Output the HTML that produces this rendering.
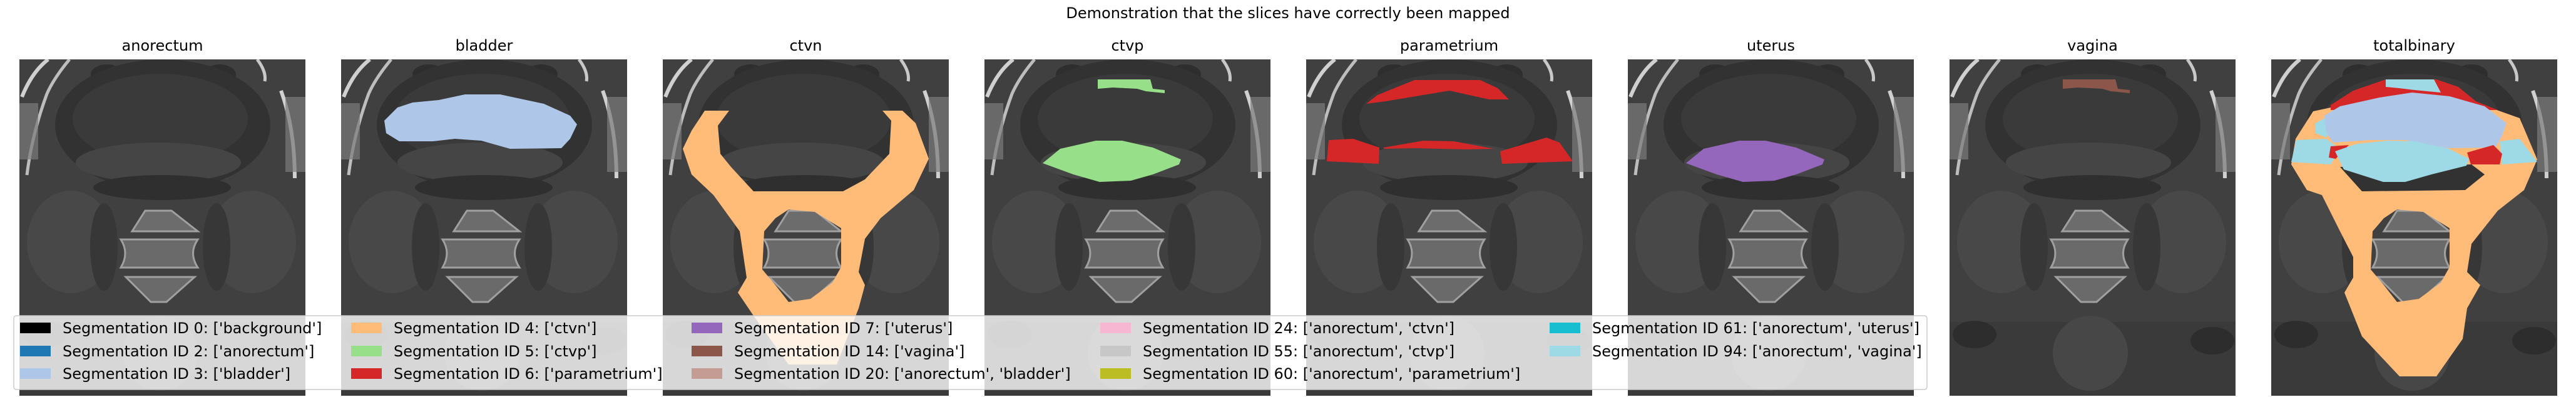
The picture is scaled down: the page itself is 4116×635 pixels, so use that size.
<!DOCTYPE html>
<html><head><meta charset="utf-8"><style>
html,body{margin:0;padding:0;background:#fff;}
svg{display:block;font-family:"DejaVu Sans","Liberation Sans",sans-serif;}
</style></head><body>
<svg id="fig" width="4116" height="635" viewBox="0 0 4116 635" xmlns="http://www.w3.org/2000/svg">
<defs>
<g id="ct">
  <rect x="0" y="0" width="457" height="538" fill="#404040"/>
  <ellipse cx="140" cy="24" rx="26" ry="16" fill="#2e2e2e"/>
  <ellipse cx="320" cy="24" rx="26" ry="16" fill="#2e2e2e"/>
  <ellipse cx="229" cy="105" rx="172" ry="105" fill="#323232"/>
  <ellipse cx="225" cy="95" rx="140" ry="72" fill="#3a3a3a"/>
  <ellipse cx="222" cy="165" rx="132" ry="32" fill="#454545"/>
  <ellipse cx="228" cy="205" rx="110" ry="20" fill="#2f2f2f"/>
  <ellipse cx="82" cy="292" rx="70" ry="82" fill="#484848"/>
  <ellipse cx="372" cy="292" rx="70" ry="82" fill="#484848"/>
  <ellipse cx="135" cy="300" rx="22" ry="70" fill="#373737"/>
  <ellipse cx="315" cy="300" rx="22" ry="70" fill="#373737"/>
  <rect x="0" y="420" width="457" height="118" fill="#3a3a3a"/>
  <ellipse cx="40" cy="440" rx="35" ry="22" fill="#2d2d2d"/>
  <ellipse cx="420" cy="450" rx="35" ry="22" fill="#2d2d2d"/>
  <ellipse cx="225" cy="470" rx="60" ry="60" fill="#474747"/>
  <polygon points="180,275 201,242 243,242 285,275" fill="#6c6c6c" stroke="#a0a0a0" stroke-width="3"/>
  <path d="M162,288 L285,288 Q270,310 285,333 L162,333 Q176,310 162,288 Z" fill="#6a6a6a" stroke="#a0a0a0" stroke-width="3"/>
  <polygon points="170,348 280,348 235,388 210,388" fill="#6a6a6a" stroke="#a0a0a0" stroke-width="3"/>
  <path d="M4,60 Q20,20 46,0" fill="none" stroke="#d0d0d0" stroke-width="6"/>
  <path d="M12,185 Q20,120 44,55 Q55,30 80,0" fill="none" stroke="#bdbdbd" stroke-width="5"/>
  <rect x="0" y="70" width="30" height="90" fill="#7a7a7a" opacity="0.7"/>
  <path d="M418,50 Q440,110 440,190" fill="none" stroke="#d0d0d0" stroke-width="6"/>
  <rect x="425" y="60" width="32" height="120" fill="#7a7a7a" opacity="0.7"/>
  <path d="M380,0 Q395,20 392,35" fill="none" stroke="#c8c8c8" stroke-width="5"/>
</g>
<clipPath id="pclip"><rect x="0" y="0" width="457" height="538"/></clipPath>
</defs>
<text x="2058" y="29" font-size="24" text-anchor="middle" fill="#000">Demonstration that the slices have correctly been mapped</text>
<g id="panels"></g>
<g id="legend"></g>
</svg>
<script>
const NS="http://www.w3.org/2000/svg";
const panelTitles=["anorectum","bladder","ctvn","ctvp","parametrium","uterus","vagina","totalbinary"];
const legendIds=[0,2,3,4,5,6,7,14,20,24,55,60,61,94];
const legendLabels=["['background']","['anorectum']","['bladder']","['ctvn']","['ctvp']","['parametrium']","['uterus']","['vagina']","['anorectum', 'bladder']","['anorectum', 'ctvn']","['anorectum', 'ctvp']","['anorectum', 'parametrium']","['anorectum', 'uterus']","['anorectum', 'vagina']"];
const legendColors=["#000000","#1f77b4","#aec7e8","#ffbb78","#98df8a","#d62728","#9467bd","#8c564b","#c49c94","#f7b6d2","#c7c7c7","#bcbd22","#17becf","#9edae5"];
const HOLE="201,240 243,244 285,270 285,332 271,357 236,383 201,388 180,361 159,336 162,275 180,254";
const LENS="93,166 121,143 178,130 220,130 269,141 314,160 311,168 269,184 234,194 184,196 142,184";
const TOP="181,32 265,32 269,47 288,49 288,54 258,51 244,47 205,45 181,47";
const overlays=[
 [],
 [["#aec7e8","69,98 90,77 114,69 156,65 198,56 254,56 324,71 366,90 377,104 366,127 352,142 270,143 224,130 182,127 147,131 93,131 72,118"]],
 [["#ffbb78","67,82 106,82 88,106 92,151 109,172 145,211 288,211 323,192 362,151 365,98 351,82 383,82 404,102 425,159 401,209 348,254 323,287 313,340 323,361 313,398 278,488 201,488 145,410 120,373 134,349 123,275 81,217 46,184 32,143 46,114",HOLE]],
 [["#98df8a",TOP],["#98df8a",LENS]],
 [["#d62728","96,71 114,57 173,33 278,33 306,46 324,64 292,64 229,50 187,57 127,67"],["#d62728","36,129 75,127 117,141 116,167 33,163"],["#d62728","124,141 187,130 236,131 300,143 257,144 173,142 124,143"],["#d62728","310,147 384,125 405,133 426,163 313,167"]],
 [["#9467bd",LENS]],
 [["#8c564b",TOP]],
 [["#ffbb78","67,83 95,77 355,79 397,94 425,160 404,209 362,242 320,295 313,340 334,361 313,398 306,447 264,507 205,507 145,443 117,373 131,349 131,316 110,275 81,217 57,209 32,168 39,127",HOLE],
  ["#323232","110,172 145,211 310,209 341,184 320,168"],
  ["#d62728","95,73 131,50 183,32 264,32 299,44 327,67 362,81 95,81"],
  ["#9edae5","183,32 260,32 271,53 229,49 204,46 183,44"],
  ["#9edae5","40,129 88,127 110,143 95,168 32,164"],
  ["#9edae5","71,102 107,82 88,125 71,118"],
  ["#9edae5","365,131 397,127 425,164 369,168"],
  ["#aec7e8","85,90 110,75 173,61 225,53 285,59 341,75 376,102 369,122 358,141 270,142 214,129 158,129 99,133 88,118"],
  ["#d62728","95,139 124,137 103,159 92,157"],
  ["#d62728","313,149 355,137 369,151 365,168 319,168"],
  ["#9edae5","102,147 137,135 186,130 228,131 284,143 316,159 312,170 256,184 214,196 179,196 116,176"]]
];
const P0=31, PSTEP=514, PY=95;
const pg=document.getElementById('panels');
panelTitles.forEach((t,i)=>{
  const x=P0+i*PSTEP;
  const g=document.createElementNS(NS,'g');
  
  
  g.setAttribute('transform',`translate(${x},${PY})`);
  const inner=document.createElementNS(NS,'g');
  inner.setAttribute('clip-path','url(#pclip)');
  const u=document.createElementNS(NS,'use');
  u.setAttribute('href','#ct');
  
  
  inner.appendChild(u);
  overlays[i].forEach(o=>{
    const p=document.createElementNS(NS,'path');
    let d="";
    for(let k=1;k<o.length;k++){d+="M"+o[k].trim().split(/\s+/).join(" L")+" Z ";}
    p.setAttribute('d',d);
    p.setAttribute('fill',o[0]);
    p.setAttribute('fill-rule','evenodd');
    
    
    inner.appendChild(p);
  });
  g.appendChild(inner);
  const tt=document.createElementNS(NS,'text');
  tt.setAttribute('x',228.5);tt.setAttribute('y',-14);
  tt.setAttribute('font-size','24');tt.setAttribute('text-anchor','middle');
  tt.textContent=t;
  
  
  g.appendChild(tt);
  pg.appendChild(g);
});
const lg=document.getElementById('legend');
const box=document.createElementNS(NS,'rect');
box.setAttribute('x',22);box.setAttribute('y',505);box.setAttribute('width',3057);box.setAttribute('height',118);
box.setAttribute('rx',4);box.setAttribute('fill','rgba(255,255,255,0.8)');box.setAttribute('stroke','#cccccc');box.setAttribute('stroke-width','1.5');


lg.appendChild(box);
const colX=[32,561,1105,1758,2476];
const rowY=[525,562,598];
legendIds.forEach((id,i)=>{
  const c=Math.floor(i/3), r=i%3;
  const g=document.createElementNS(NS,'g');
  
  
  const s=document.createElementNS(NS,'rect');
  s.setAttribute('x',colX[c]);s.setAttribute('y',rowY[r]-9);s.setAttribute('width',49);s.setAttribute('height',17);
  s.setAttribute('fill',legendColors[i]);
  
  
  const t=document.createElementNS(NS,'text');
  t.setAttribute('x',colX[c]+68);t.setAttribute('y',rowY[r]+8);t.setAttribute('font-size','24');
  t.textContent='Segmentation ID '+id+': '+legendLabels[i];
  
  
  g.appendChild(s);g.appendChild(t);lg.appendChild(g);
});
</script>
</body></html>
